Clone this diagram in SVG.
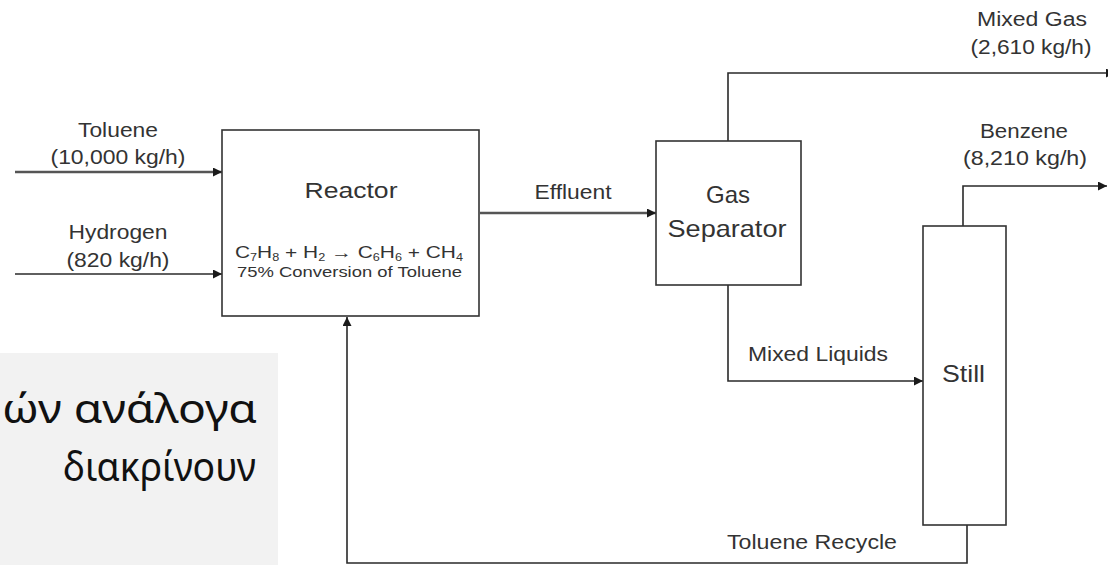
<svg xmlns="http://www.w3.org/2000/svg" width="1108" height="565" viewBox="0 0 1108 565">
<style>
.box{fill:#ffffff;stroke:#333333;stroke-width:1.6}
.ln{fill:none;stroke:#2a2a2a;stroke-width:1.6}
.lnt{fill:none;stroke:#555555;stroke-width:2.6}
.t{font-family:"Liberation Sans",Arial,sans-serif;fill:#333333;text-anchor:middle}
.g{font-family:"Noto Sans","Open Sans",sans-serif;fill:#111111;text-anchor:end;font-size:40px}
</style>
<defs>
<marker id="ah" markerUnits="userSpaceOnUse" markerWidth="10" markerHeight="10" refX="9" refY="4.5" orient="auto">
<path d="M0,0 L9,4.5 L0,9 z" fill="#1a1a1a"/>
</marker>
</defs>
<rect width="1108" height="565" fill="#ffffff"/>
<g id="note">
<rect x="0" y="353" width="278" height="212" fill="#f2f2f2"/>
<text class="g" x="257" y="423" textLength="255" lengthAdjust="spacingAndGlyphs">ών ανάλογα</text>
<text class="g" x="256" y="481" textLength="193" lengthAdjust="spacingAndGlyphs">διακρίνουν</text>
</g>
<g id="connectors">
<path class="lnt" d="M15,172 H222" marker-end="url(#ah)"/>
<path class="ln" d="M15,274 H222" marker-end="url(#ah)"/>
<path class="lnt" d="M480,213 H656" marker-end="url(#ah)"/>
<path class="ln" d="M728,141 V73 H1115" marker-end="url(#ah)"/>
<path class="ln" d="M963,226 V186 H1107" marker-end="url(#ah)"/>
<path class="ln" d="M728,285 V381 H923" marker-end="url(#ah)"/>
<path class="ln" d="M967,525 V563 H347 V317" marker-end="url(#ah)"/>
</g>
<g id="reactor">
<rect class="box" x="222" y="130" width="257" height="186"/>
<text class="t" x="351" y="198" font-size="22" textLength="93" lengthAdjust="spacingAndGlyphs">Reactor</text>
<text class="t" x="349" y="258" font-size="16.5" textLength="228" lengthAdjust="spacingAndGlyphs">C<tspan font-size="10" dy="3">7</tspan><tspan dy="-3">H</tspan><tspan font-size="10" dy="3">8</tspan><tspan dy="-3"> + H</tspan><tspan font-size="10" dy="3">2</tspan><tspan dy="-3"> → C</tspan><tspan font-size="10" dy="3">6</tspan><tspan dy="-3">H</tspan><tspan font-size="10" dy="3">6</tspan><tspan dy="-3"> + CH</tspan><tspan font-size="10" dy="3">4</tspan></text>
<text class="t" x="349.5" y="277" font-size="14.5" textLength="225" lengthAdjust="spacingAndGlyphs">75% Conversion of Toluene</text>
</g>
<g id="separator">
<rect class="box" x="656" y="141" width="145" height="144"/>
<text class="t" x="728" y="203" font-size="24">Gas</text>
<text class="t" x="727" y="237" font-size="24" textLength="119" lengthAdjust="spacingAndGlyphs">Separator</text>
</g>
<g id="still">
<rect class="box" x="923" y="226" width="83" height="299"/>
<text class="t" x="963.5" y="382" font-size="24" textLength="43" lengthAdjust="spacingAndGlyphs">Still</text>
</g>
<g id="labels">
<text class="t" x="118" y="137" font-size="20" textLength="80" lengthAdjust="spacingAndGlyphs">Toluene</text>
<text class="t" x="118" y="164" font-size="20" textLength="135" lengthAdjust="spacingAndGlyphs">(10,000 kg/h)</text>
<text class="t" x="118" y="239" font-size="20" textLength="99" lengthAdjust="spacingAndGlyphs">Hydrogen</text>
<text class="t" x="118" y="267" font-size="20" textLength="103" lengthAdjust="spacingAndGlyphs">(820 kg/h)</text>
<text class="t" x="573" y="199" font-size="20" textLength="77" lengthAdjust="spacingAndGlyphs">Effluent</text>
<text class="t" x="1032" y="26" font-size="20" textLength="110" lengthAdjust="spacingAndGlyphs">Mixed Gas</text>
<text class="t" x="1031" y="54" font-size="20" textLength="121" lengthAdjust="spacingAndGlyphs">(2,610 kg/h)</text>
<text class="t" x="1024" y="138" font-size="20" textLength="88" lengthAdjust="spacingAndGlyphs">Benzene</text>
<text class="t" x="1025" y="165" font-size="20" textLength="124" lengthAdjust="spacingAndGlyphs">(8,210 kg/h)</text>
<text class="t" x="818" y="361" font-size="20" textLength="140" lengthAdjust="spacingAndGlyphs">Mixed Liquids</text>
<text class="t" x="812" y="549" font-size="20" textLength="170" lengthAdjust="spacingAndGlyphs">Toluene Recycle</text>
</g>
</svg>
